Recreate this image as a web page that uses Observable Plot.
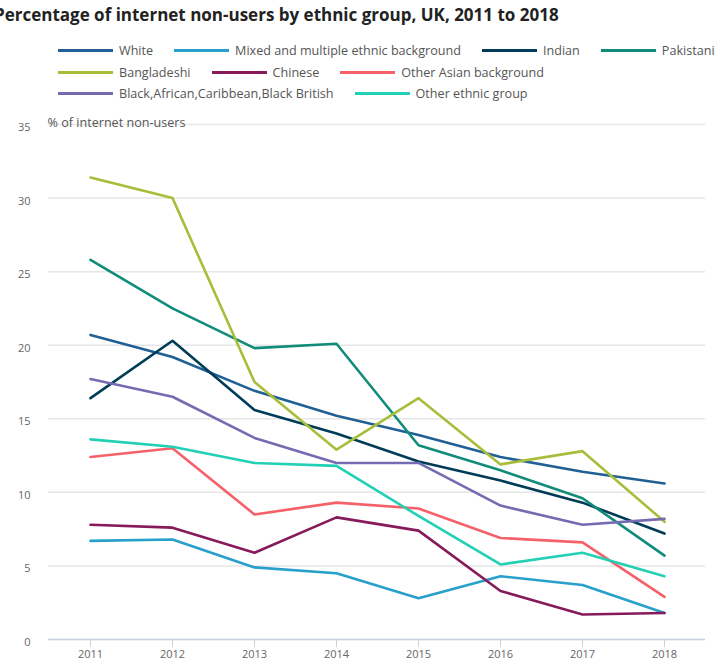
<!DOCTYPE html>
<html>
<head>
<meta charset="utf-8">
<script src="https://cdn.jsdelivr.net/npm/d3@7"></script>
<script src="https://cdn.jsdelivr.net/npm/@observablehq/plot@0.6"></script>
<style>
  html, body { margin: 0; padding: 0; background: #fff; }
  body { width: 720px; height: 662px; overflow: hidden; position: relative; font-family: "Open Sans", sans-serif; }
  #title { position: absolute; left: -6px; top: 3px; font-size: 17px; font-weight: bold; color: #222; white-space: nowrap; }
  #legend { position: absolute; left: 58px; top: 40px; width: 680px; }
  .row { display: flex; height: 21.5px; align-items: center; }
  .item { display: flex; align-items: center; margin-right: 21px; font-size: 12.6px; color: #555; white-space: nowrap; }
  .sw { width: 55px; height: 3px; margin-right: 6px; }
  #chart { position: absolute; left: 0; top: 105px; }
</style>
</head>
<body>
<div id="title">Percentage of internet non-users by ethnic group, UK, 2011 to 2018</div>
<div id="legend"></div>
<div id="chart"></div>
<script>
const years = [2011, 2012, 2013, 2014, 2015, 2016, 2017, 2018];
const groups = ["White", "Mixed and multiple ethnic background", "Indian", "Pakistani", "Bangladeshi", "Chinese", "Other Asian background", "Black,African,Caribbean,Black British", "Other ethnic group"];
const colors = ["#206095", "#27a0cc", "#003c57", "#118c7b", "#a8bd3a", "#871a5b", "#f66068", "#746cb1", "#22d0b6"];
const white       = [20.7, 19.2, 16.9, 15.2, 13.9, 12.4, 11.4, 10.6];
const mixed       = [6.7, 6.8, 4.9, 4.5, 2.8, 4.3, 3.7, 1.8];
const indian      = [16.4, 20.3, 15.6, 14.0, 12.1, 10.8, 9.3, 7.2];
const pakistani   = [25.8, 22.5, 19.8, 20.1, 13.2, 11.5, 9.6, 5.7];
const bangladeshi = [31.4, 30.0, 17.5, 12.9, 16.4, 11.9, 12.8, 8.0];
const chinese     = [7.8, 7.6, 5.9, 8.3, 7.4, 3.3, 1.7, 1.8];
const otherAsian  = [12.4, 13.0, 8.5, 9.3, 8.9, 6.9, 6.6, 2.9];
const black       = [17.7, 16.5, 13.7, 12.0, 12.0, 9.1, 7.8, 8.2];
const otherEthnic = [13.6, 13.1, 12.0, 11.8, 8.4, 5.1, 5.9, 4.3];
const yTicks = [0, 5, 10, 15, 20, 25, 30, 35];
const legendRows = [[0, 1, 2, 3], [4, 5, 6], [7, 8]];

const series = [white, mixed, indian, pakistani, bangladeshi, chinese, otherAsian, black, otherEthnic];
const data = [];
series.forEach((vals, i) => vals.forEach((v, j) => data.push({group: groups[i], year: String(years[j]), value: v})));

// legend
const leg = document.getElementById("legend");
legendRows.forEach(r => {
  const row = document.createElement("div");
  row.className = "row";
  r.forEach(i => {
    const it = document.createElement("div");
    it.className = "item";
    const sw = document.createElement("span");
    sw.className = "sw";
    sw.style.background = colors[i];
    const t = document.createElement("span");
    t.textContent = groups[i];
    it.appendChild(sw); it.appendChild(t);
    row.appendChild(it);
  });
  leg.appendChild(row);
});

const chart = Plot.plot({
  width: 720,
  height: 557,
  marginLeft: 48,
  marginRight: 15,
  marginTop: 19,
  marginBottom: 23,
  style: {fontFamily: "Open Sans, sans-serif", fontSize: "11px", color: "#666", background: "#fff"},
  x: {type: "point", domain: years.map(String), padding: 0.5, label: null},
  y: {domain: [0, 35], ticks: yTicks, label: null},
  color: {domain: groups, range: colors},
  marks: [
    Plot.gridY(yTicks, {stroke: "#e6e6e6", strokeOpacity: 1, strokeWidth: 1.5}),
    Plot.axisY(yTicks, {tickSize: 0, tickPadding: 18, dy: 3, fill: "#666", label: null}),
    Plot.axisX({tickSize: 8, stroke: "#c9d2e3", tickPadding: 3, fill: "#666", label: null}),
    Plot.ruleY([0], {stroke: "#c9d2e3", strokeWidth: 1.5}),
    Plot.text(["% of internet non-users"], {frameAnchor: "top-left", dx: -1, dy: -6, fontSize: 12.6, fill: "#555", textAnchor: "start"}),
    Plot.line(data, {x: "year", y: "value", z: "group", stroke: "group", strokeWidth: 2.6, curve: "linear"})
  ]
});
document.getElementById("chart").appendChild(chart);
</script>
</body>
</html>
